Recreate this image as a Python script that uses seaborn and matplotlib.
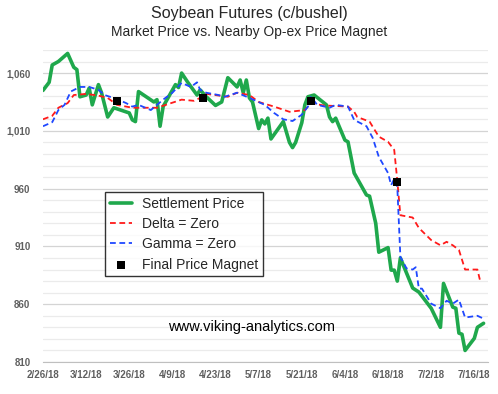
import pandas as pd
import matplotlib.pyplot as plt
import seaborn as sns

# Prix de règlement (séance)
settle_dates = ["2018-02-26", "2018-02-28", "2018-03-01", "2018-03-03", "2018-03-06", "2018-03-07",
                "2018-03-08", "2018-03-09", "2018-03-10", "2018-03-12", "2018-03-13", "2018-03-14",
                "2018-03-16", "2018-03-17", "2018-03-19", "2018-03-21", "2018-03-26", "2018-03-27",
                "2018-03-28", "2018-03-29", "2018-04-03", "2018-04-04", "2018-04-05", "2018-04-06",
                "2018-04-10", "2018-04-11", "2018-04-12", "2018-04-14", "2018-04-17", "2018-04-18",
                "2018-04-20", "2018-04-23", "2018-04-25", "2018-04-27", "2018-04-30", "2018-05-01",
                "2018-05-02", "2018-05-03", "2018-05-04", "2018-05-05", "2018-05-07", "2018-05-08",
                "2018-05-09", "2018-05-10", "2018-05-11", "2018-05-15", "2018-05-17", "2018-05-18",
                "2018-05-19", "2018-05-21", "2018-05-22", "2018-05-23", "2018-05-25", "2018-05-29",
                "2018-05-30", "2018-05-31", "2018-06-01", "2018-06-04", "2018-06-05", "2018-06-07",
                "2018-06-11", "2018-06-12", "2018-06-14", "2018-06-15", "2018-06-18", "2018-06-19",
                "2018-06-20", "2018-06-21", "2018-06-22", "2018-06-26", "2018-06-28", "2018-07-02",
                "2018-07-05", "2018-07-06", "2018-07-09", "2018-07-10", "2018-07-11", "2018-07-12",
                "2018-07-13", "2018-07-16", "2018-07-17", "2018-07-19"]
settle = [1045, 1052, 1067, 1070, 1077, 1071, 1065, 1063, 1039.5, 1041, 1047, 1032.5,
          1050, 1043, 1022, 1030, 1025.5, 1019.5, 1018, 1044, 1035, 1037, 1014, 1031,
          1050, 1047.5, 1060, 1052, 1041, 1045.5, 1039.5, 1032, 1035, 1056, 1048, 1054,
          1043, 1054, 1038.5, 1035, 1012, 1019.5, 1016, 1021, 1003, 1018, 1000, 995.5,
          1000, 1017, 1032.5, 1039.5, 1041, 1032.5, 1022, 1018, 1021, 1002, 1000.5, 973.5,
          954.5, 953.5, 930, 905, 909, 889.5, 889.5, 880, 900, 874, 870.5, 856.5,
          840, 878, 857.5, 856.5, 835, 834, 820, 830.5, 840, 843.5]

# Delta = Zero
delta_dates = ["2018-02-26", "2018-03-01", "2018-03-03", "2018-03-06", "2018-03-08", "2018-03-12",
               "2018-03-16", "2018-03-19", "2018-03-22", "2018-03-27", "2018-04-01", "2018-04-04",
               "2018-04-08", "2018-04-12", "2018-04-16", "2018-04-18", "2018-04-20", "2018-04-27",
               "2018-04-30", "2018-05-04", "2018-05-07", "2018-05-12", "2018-05-17", "2018-05-22",
               "2018-05-24", "2018-05-28", "2018-06-05", "2018-06-07", "2018-06-08", "2018-06-12",
               "2018-06-15", "2018-06-18", "2018-06-20", "2018-06-21", "2018-06-22", "2018-06-24",
               "2018-06-26", "2018-06-28", "2018-07-02", "2018-07-05", "2018-07-07", "2018-07-09",
               "2018-07-11", "2018-07-13", "2018-07-17", "2018-07-18"]
delta = [1020, 1023, 1030, 1034, 1041, 1042, 1040.5, 1038.5, 1032.5, 1030, 1030, 1030,
         1033.5, 1037, 1036, 1038.5, 1042, 1039.5, 1043, 1041, 1035, 1031, 1026.5, 1028,
         1034, 1032, 1031, 1026.5, 1022, 1018, 1005, 1000.5, 993.5, 967, 937, 936,
         935, 926, 915.5, 911, 914, 911, 907, 890, 890, 879]

# Gamma = Zero
gamma_dates = ["2018-02-26", "2018-03-01", "2018-03-03", "2018-03-05", "2018-03-07", "2018-03-10",
               "2018-03-13", "2018-03-16", "2018-03-18", "2018-03-22", "2018-03-25", "2018-03-27",
               "2018-03-29", "2018-04-02", "2018-04-04", "2018-04-06", "2018-04-09", "2018-04-12",
               "2018-04-15", "2018-04-17", "2018-04-18", "2018-04-20", "2018-04-24", "2018-04-26",
               "2018-04-30", "2018-05-04", "2018-05-09", "2018-05-12", "2018-05-15", "2018-05-18",
               "2018-05-21", "2018-05-23", "2018-05-24", "2018-05-26", "2018-05-30", "2018-06-01",
               "2018-06-05", "2018-06-07", "2018-06-11", "2018-06-13", "2018-06-15", "2018-06-18",
               "2018-06-19", "2018-06-20", "2018-06-21", "2018-06-22", "2018-06-24", "2018-06-26",
               "2018-06-27", "2018-06-28", "2018-06-29", "2018-07-02", "2018-07-05", "2018-07-07",
               "2018-07-09", "2018-07-11", "2018-07-13", "2018-07-17", "2018-07-19"]
gamma = [1014, 1017.5, 1028, 1032.5, 1044, 1048, 1048, 1045.5, 1041, 1037.5, 1034, 1031,
         1032.5, 1028, 1032.5, 1037, 1043, 1051.5, 1048, 1052, 1045.5, 1043, 1041, 1039.5,
         1043, 1038.5, 1032.5, 1025.5, 1020, 1018.5, 1024, 1031, 1039.5, 1032.5, 1030, 1032.5,
         1031, 1019.5, 1014, 1004, 987.5, 973.5, 963, 968.5, 961.5, 901, 891, 890,
         892, 873.5, 873.5, 860.5, 856.5, 863, 860.5, 864, 848.5, 850, 847.5]

# Aimants de prix finaux
magnet_dates = ["2018-03-22", "2018-04-19", "2018-05-24", "2018-06-21"]
magnet = [1036, 1038.5, 1036, 965.5]

tick_dates = ["2018-02-26", "2018-03-12", "2018-03-26", "2018-04-09", "2018-04-23", "2018-05-07",
              "2018-05-21", "2018-06-04", "2018-06-18", "2018-07-02", "2018-07-16"]
tick_labels = ["2/26/18", "3/12/18", "3/26/18", "4/9/18", "4/23/18", "5/7/18",
               "5/21/18", "6/4/18", "6/18/18", "7/2/18", "7/16/18"]
y_major = [810, 860, 910, 960, 1010, 1060]
y_labels = ["810", "860", "910", "960", "1,010", "1,060"]

sns.set_style("white")
plt.rcParams["font.family"] = ["Liberation Sans", "DejaVu Sans"]

df_s = pd.DataFrame({"date": pd.to_datetime(settle_dates), "price": settle})
df_d = pd.DataFrame({"date": pd.to_datetime(delta_dates), "price": delta})
df_g = pd.DataFrame({"date": pd.to_datetime(gamma_dates), "price": gamma})
df_m = pd.DataFrame({"date": pd.to_datetime(magnet_dates), "price": magnet})

fig = plt.figure(figsize=(4.98, 3.94), dpi=100)
ax = fig.add_axes([0.0863, 0.0812, 0.894, 0.792])

sns.lineplot(data=df_s, x="date", y="price", ax=ax, color="#1fa84c", linewidth=2.6,
             estimator=None, sort=False, label="Settlement Price")
sns.lineplot(data=df_d, x="date", y="price", ax=ax, color="#ff1a1a", linewidth=1.3,
             estimator=None, sort=False, label="Delta = Zero")
sns.lineplot(data=df_g, x="date", y="price", ax=ax, color="#1f48ff", linewidth=1.3,
             estimator=None, sort=False, label="Gamma = Zero")
ax.lines[1].set_linestyle((0, (3.2, 2)))
ax.lines[2].set_linestyle((0, (3.2, 2)))
sns.scatterplot(data=df_m, x="date", y="price", ax=ax, marker="s", color="black",
                s=38, linewidth=0, label="Final Price Magnet", zorder=5)

ax.set_xlim(pd.Timestamp("2018-02-26"), pd.Timestamp("2018-07-20 12:00"))
ax.set_ylim(810, 1080)
ax.set_xticks(pd.to_datetime(tick_dates))
ax.set_xticklabels(tick_labels)
ax.set_yticks(y_major)
ax.set_yticklabels(y_labels)
ax.set_yticks(list(range(820, 1081, 10)), minor=True)
ax.grid(which="minor", axis="y", color="#ebebeb", linewidth=0.9)
ax.grid(which="major", axis="y", color="#d4d4d4", linewidth=0.9)
ax.set_axisbelow(True)
ax.tick_params(axis="y", which="both", length=0, labelsize=7, labelcolor="#5f5f5f", pad=9)
ax.tick_params(axis="x", length=3, color="#bfbfbf", labelsize=7, labelcolor="#5f5f5f", pad=3)
for lbl in ax.get_xticklabels() + ax.get_yticklabels():
    lbl.set_fontweight("bold")
for side in ["left", "right", "top"]:
    ax.spines[side].set_visible(False)
ax.spines["bottom"].set_color("#bfbfbf")
ax.set_xlabel("")
ax.set_ylabel("")

leg = ax.legend(loc="upper left", bbox_to_anchor=(0.139, 0.545), borderaxespad=0,
                fontsize=10, frameon=True, fancybox=False, edgecolor="black",
                handlelength=1.6, labelspacing=0.45, borderpad=0.35, handletextpad=0.7)
leg.get_frame().set_linewidth(1.0)

ax.text(0.469, 0.112, "www.viking-analytics.com", transform=ax.transAxes,
        ha="center", va="center", fontsize=10.5, color="black")

fig.text(0.5, 0.967, "Soybean Futures (c/bushel)", ha="center", va="center", fontsize=11.5)
fig.text(0.5, 0.918, "Market Price vs. Nearby Op-ex Price Magnet", ha="center", va="center", fontsize=10)

plt.savefig("out.png", dpi=100)
plt.close()
